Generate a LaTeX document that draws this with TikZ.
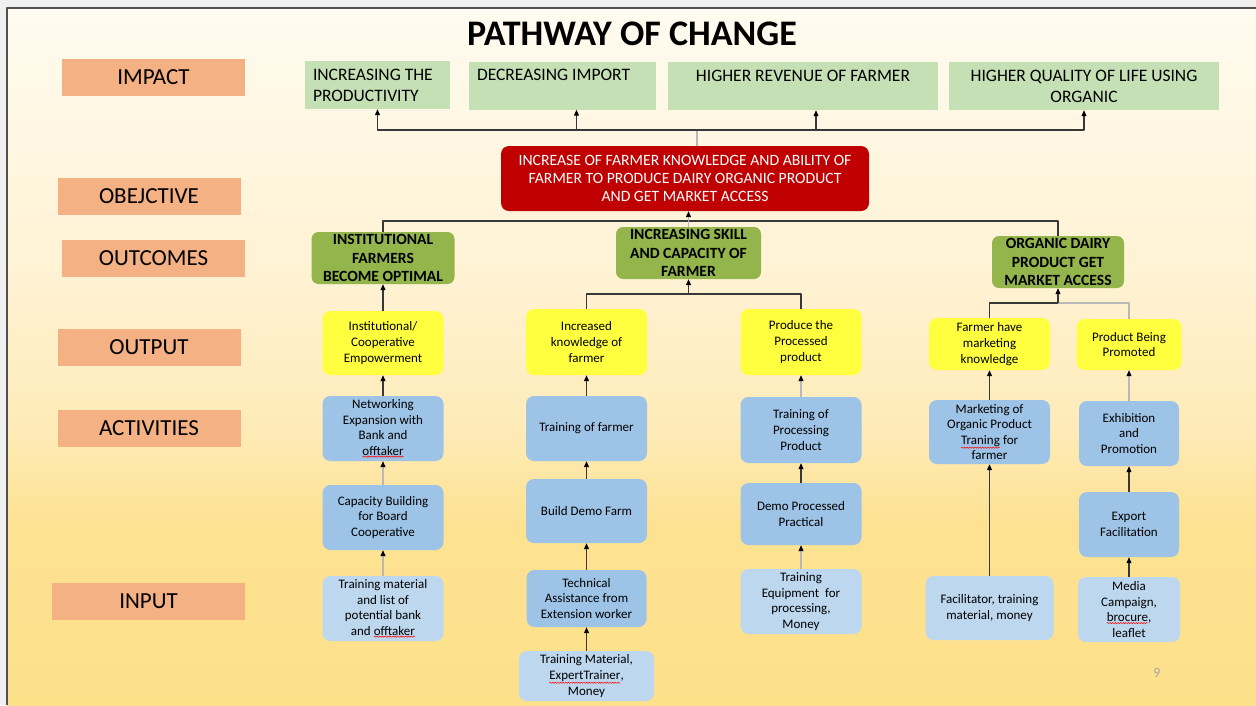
\documentclass[tikz,border=0pt]{standalone}
\usepackage{fontspec}
\setmainfont{Carlito}
\usetikzlibrary{arrows.meta,decorations.pathmorphing}

\definecolor{canvasgray}{HTML}{F0F0F0}
\definecolor{framegray}{HTML}{505050}
\definecolor{bgA}{HTML}{FFFBF0}
\definecolor{bgE}{HTML}{FFF2D2}
\definecolor{bgB}{HTML}{FEEBB8}
\definecolor{bgC}{HTML}{FDE292}
\definecolor{bgD}{HTML}{FDE08A}
\definecolor{salmon}{HTML}{F4B183}
\definecolor{impgreen}{HTML}{C5E0B4}
\definecolor{objred}{HTML}{C00000}
\definecolor{outgreen}{HTML}{93B54C}
\definecolor{outyellow}{HTML}{FFFF40}
\definecolor{actblue}{HTML}{9DC3E6}
\definecolor{inblue}{HTML}{BDD7EE}
\definecolor{linegray}{HTML}{383838}
\definecolor{fadegray}{HTML}{B8B8B8}
\definecolor{numgray}{HTML}{A6A6A6}

% red wavy mark under a word
\newcommand\spellmark[1]{\tikz[baseline=(sw.base), x=1pt, y=1pt, sharp corners, line join=miter]{\node[inner sep=0pt, outer sep=0pt, minimum size=0pt, draw=none, fill=none] (sw) {#1}; \draw[red, line width=0.5pt, decorate, decoration={snake, amplitude=0.6pt, segment length=2.6pt}] ([yshift=-1.2pt]sw.south west) -- ([yshift=-1.2pt]sw.south east);}}

\pgfdeclareverticalshading{slidebg}{100bp}{color(0bp)=(bgD); color(25bp)=(bgD); color(38bp)=(bgC); color(45bp)=(bgB); color(55bp)=(bgE); color(75bp)=(bgA); color(100bp)=(bgA)}

\begin{document}
\begin{tikzpicture}[x=1pt, y=-1pt, line join=round, >={Triangle[length=6pt,width=5pt,color=black]},
		lbl/.style={fill=salmon, minimum width=183, minimum height=37, inner sep=0pt, font=\fontsize{23}{26}\selectfont},
		impbox/.style={fill=impgreen, inner xsep=8pt, inner ysep=0pt, minimum height=48, font=\fontsize{17.5}{21}\selectfont},
		objbox/.style={fill=objred, rounded corners=8, text=white, align=center, inner sep=1pt, font=\fontsize{15.7}{18}\selectfont},
		outbox/.style={fill=outgreen, rounded corners=7, align=center, inner sep=0pt, minimum height=52, font=\bfseries\fontsize{15.6}{18.5}\selectfont},
		card/.style={rounded corners=8, align=center, inner sep=1pt, minimum width=121, minimum height=65, font=\fontsize{13}{15.6}\selectfont},
		outputbox/.style={card, fill=outyellow},
		actbox/.style={card, fill=actblue},
		inbox/.style={card, fill=inblue},
		link/.style={draw=linegray, line width=1.1pt},
		fadelink/.style={draw=fadegray, line width=1.1pt}]
	\useasboundingbox (0,0) rectangle (1256,705);
	% slide background
	\fill[canvasgray] (0,0) rectangle (1256,705);
	\shade[shading=slidebg] (7,8) rectangle (1256,705);
	\draw[framegray, line width=1.5pt] (7,705) -- (7,8) -- (1256,8);

	\node[font=\bfseries\fontsize{36}{40}\selectfont] (title) at (632,34) {PATHWAY OF CHANGE};

	% level labels
	\node[lbl] (impact) at (153.5,77) {IMPACT};
	\node[lbl] (objective) at (149,196.5) {OBEJCTIVE};
	\node[lbl] (outcomes) at (153.5,258) {OUTCOMES};
	\node[lbl] (output) at (149,347.5) {OUTPUT};
	\node[lbl] (activities) at (149,428.5) {ACTIVITIES};
	\node[lbl, minimum width=193] (input) at (148.5,601) {INPUT};

	% impact
	\node[impbox, text width=129, align=flush left] (im1) at (377.5,85) {INCREASING THE\\PRODUCTIVITY};
	\node[impbox, text width=171, align=flush left] (im2) at (562.5,85.5) {DECREASING IMPORT\\~};
	\node[impbox, text width=254, align=flush center] (im3) at (803,86) {HIGHER REVENUE OF FARMER\\~};
	\node[impbox, text width=254, align=flush center] (im4) at (1084,86) {HIGHER QUALITY OF LIFE USING\\ORGANIC};

	% objective
	\node[objbox, minimum width=368, minimum height=65] (obj) at (685,178.5) {INCREASE OF FARMER KNOWLEDGE AND ABILITY OF\\FARMER TO PRODUCE DAIRY ORGANIC PRODUCT\\AND GET MARKET ACCESS};

	% outcomes
	\node[outbox, minimum width=143] (out1) at (383,258) {INSTITUTIONAL\\FARMERS\\BECOME OPTIMAL};
	\node[outbox, minimum width=145] (out2) at (688.5,253) {INCREASING SKILL\\AND CAPACITY OF\\FARMER};
	\node[outbox, minimum width=132] (out3) at (1058,262) {ORGANIC DAIRY\\PRODUCT GET\\MARKET ACCESS};

	% outputs
	\node[outputbox, minimum height=64] (op1) at (383,343) {Institutional/\\Cooperative\\Empowerment};
	\node[outputbox, minimum height=66] (op2) at (586.5,342) {Increased\\knowledge of\\farmer};
	\node[outputbox, minimum height=66] (op3) at (801,342) {Produce the\\Processed\\product};
	\node[outputbox, minimum height=52] (op4) at (989.5,344) {Farmer have\\marketing\\knowledge};
	\node[outputbox, minimum width=105, minimum height=51] (op5) at (1129,344.5) {Product Being\\Promoted};

	% activities
	\node[actbox] (a1) at (383,428.5) {Networking\\Expansion with\\Bank and\\\spellmark{offtaker}};
	\node[actbox] (a1b) at (383,517.5) {Capacity Building\\for Board\\Cooperative};
	\node[actbox] (a2) at (586.5,428.5) {Training of farmer};
	\node[actbox, minimum height=64] (a2b) at (586.5,511) {Build Demo Farm};
	\node[actbox, minimum height=66] (a3) at (801,430) {Training of\\Processing\\Product};
	\node[actbox, minimum height=62] (a3b) at (801,514) {Demo Processed\\Practical};
	\node[actbox, minimum height=64] (a4) at (989.5,432) {Marketing of\\Organic Product\\\spellmark{Traning} for\\farmer};
	\node[actbox, minimum width=100] (a5) at (1129,433.5) {Exhibition\\and\\Promotion};
	\node[actbox, minimum width=100] (a5b) at (1129,524.5) {Export\\Facilitation};

	% inputs
	\node[inbox] (in1) at (383,608.5) {Training material\\and list of\\potential bank\\and \spellmark{offtaker}};
	\node[actbox, minimum width=120, minimum height=57] (in2) at (586.5,598.5) {Technical\\Assistance from\\Extension worker};
	\node[inbox, minimum width=135, minimum height=50] (in2b) at (586.5,676) {Training Material,\\\spellmark{ExpertTrainer},\\Money};
	\node[inbox] (in3) at (801,601.5) {Training\\Equipment~ for\\processing,\\Money};
	\node[inbox, minimum width=128, minimum height=64] (in4) at (989.5,608) {Facilitator, training\\material, money};
	\node[inbox, minimum width=102] (in5) at (1129,609.5) {Media\\Campaign,\\\spellmark{brocure},\\leaflet};

	\node[text=numgray, font=\fontsize{14}{16}\selectfont] (pagenum) at (1157,673) {9};

	% objective to impact
	\coordinate (bus1) at (697,130);
	\draw[fadelink] (bus1 |- obj.north) -- (bus1);
	\draw[link,->] (bus1) -| (im1.south);
	\draw[link,->] (bus1) -| ([xshift=14pt]im2.south);
	\draw[link,->] (bus1) -| ([xshift=13pt]im3.south);
	\draw[link,->] (bus1) -| (im4.south);

	% outcomes to objective
	\coordinate (bus2) at (688.5,221);
	\draw[link] (out1.north) |- (bus2) -| (out3.north);
	\draw[fadelink,->] (out2.north) -- (out2.north |- obj.south);

	% outputs to outcomes
	\coordinate (bus3) at (688.5,294);
	\coordinate (bus4) at (1058,303);
	\draw[link] (op2.north) |- (bus3) -| (op3.north);
	\draw[link,->] (bus3) -- (out2.south);
	\draw[link] (op4.north) |- (bus4);
	\draw[fadelink] (bus4) -| (op5.north);
	\draw[link,->] (bus4) -- (out3.south);
	\draw[link,->] (op1) -- (out1);

	% activities and inputs upwards
	\draw[link,->] (a1) -- (op1);
	\draw[fadelink,->] (a1b) -- (a1);
	\draw[fadelink,->] (in1) -- (a1b);
	\draw[link,->] (a2) -- (op2);
	\draw[link,->] (a2b) -- (a2);
	\draw[link,->] (in2) -- (a2b);
	\draw[link,->] (in2b) -- (in2);
	\draw[fadelink,->] (a3) -- (op3);
	\draw[link,->] (a3b) -- (a3);
	\draw[fadelink,->] (in3) -- (a3b);
	\draw[link,->] (a4) -- (op4);
	\draw[link,->] (in4) -- (a4);
	\draw[fadelink,->] (a5) -- (op5);
	\draw[link,->] (a5b) -- (a5);
	\draw[link,->] (in5) -- (a5b);
\end{tikzpicture}
\end{document}
